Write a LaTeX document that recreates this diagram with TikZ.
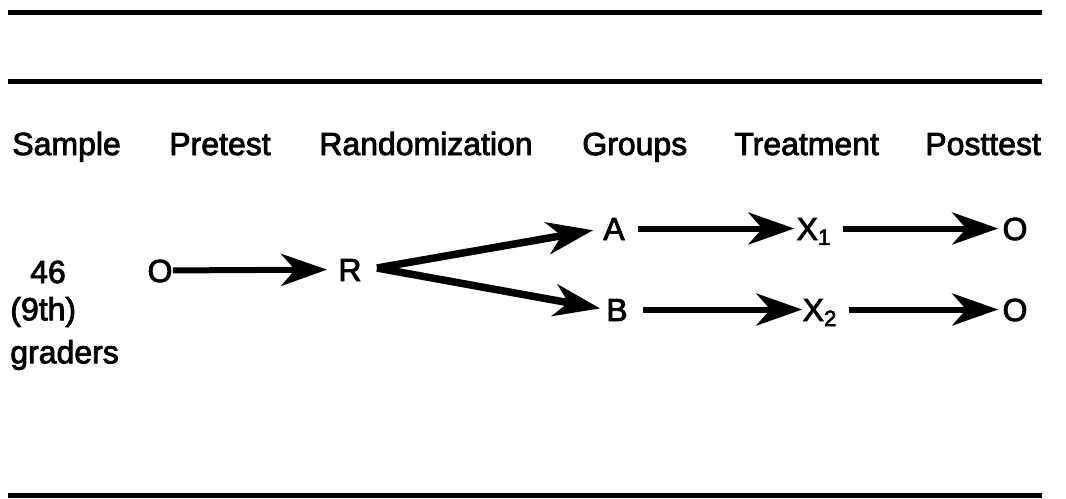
\documentclass[tikz,border=0pt]{standalone}
\usepackage{fontspec}
\setmainfont{Liberation Sans}[FakeBold=2.6]
\usetikzlibrary{arrows.meta}

\begin{document}
\begin{tikzpicture}[x=0.02cm, y=-0.02cm,
		txt/.style={inner sep=0pt, font=\fontsize{18.2}{22}\selectfont},
		hd/.style={txt, anchor=base west},
		sym/.style={txt, text height=0.46cm, text depth=0pt, anchor=base},
		rule/.style={line width=0.1cm},
		arr/.style={line width=0.12cm, -{Stealth[length=0.92cm, width=0.64cm, inset=0.28cm]}}]
			\useasboundingbox (0,0) rectangle (1066,498);
			%%%%% START %%%%%
			
			\draw[rule] (8, 12) -- (1042, 12);
			\draw[rule] (8, 81) -- (1042, 81);
			\draw[rule] (8, 495) -- (1042, 495);
			
			\node[hd] (sample) at (12, 155) {Sample};
			\node[hd] (pretest) at (169, 155) {Pretest};
			\node[hd] (random) at (319, 155) {Randomization};
			\node[hd] (groups) at (582, 155) {Groups};
			\node[hd] (treat) at (734, 155) {Treatment};
			\node[hd] (post) at (925, 155) {Posttest};
			
			\node[txt] (n46) at (48, 272) {46};
			\node[txt, anchor=west] (ninth) at (10, 312) {(9th)};
			\node[txt, anchor=west] (graders) at (10, 355) {graders};
			
			\node[sym] (pre) at (160, 282) {O};
			\node[sym] (r) at (350, 281) {R};
			\coordinate (split) at (377, 268);
			
			\node[sym] (a) at (614, 240) {A};
			\node[sym] (x1) at (814, 240) {X\textsubscript{1}};
			\node[sym] (oa) at (1015, 240) {O};
			
			\node[sym] (b) at (617, 321) {B};
			\node[sym] (x2) at (820, 321) {X\textsubscript{2}};
			\node[sym] (ob) at (1015, 321) {O};
			
			\draw[arr, shorten >=0.22cm] (pre) -- (r);
			\draw[arr, line width=0.15cm, shorten >=0.2cm] (split) -- (a.west);
			\draw[arr, line width=0.15cm, shorten >=0.12cm] (split) -- (b.west);
			
			\draw[arr, shorten <=0.26cm, shorten >=0.04cm] (a) -- (x1);
			\draw[arr, shorten <=0.22cm, shorten >=0.08cm] (x1) -- (oa);
			\draw[arr, shorten <=0.3cm] (b) -- (x2);
			\draw[arr, shorten <=0.22cm, shorten >=0.08cm] (x2) -- (ob);
			
			%%%%% END %%%%%
		\end{tikzpicture}
\end{document}
